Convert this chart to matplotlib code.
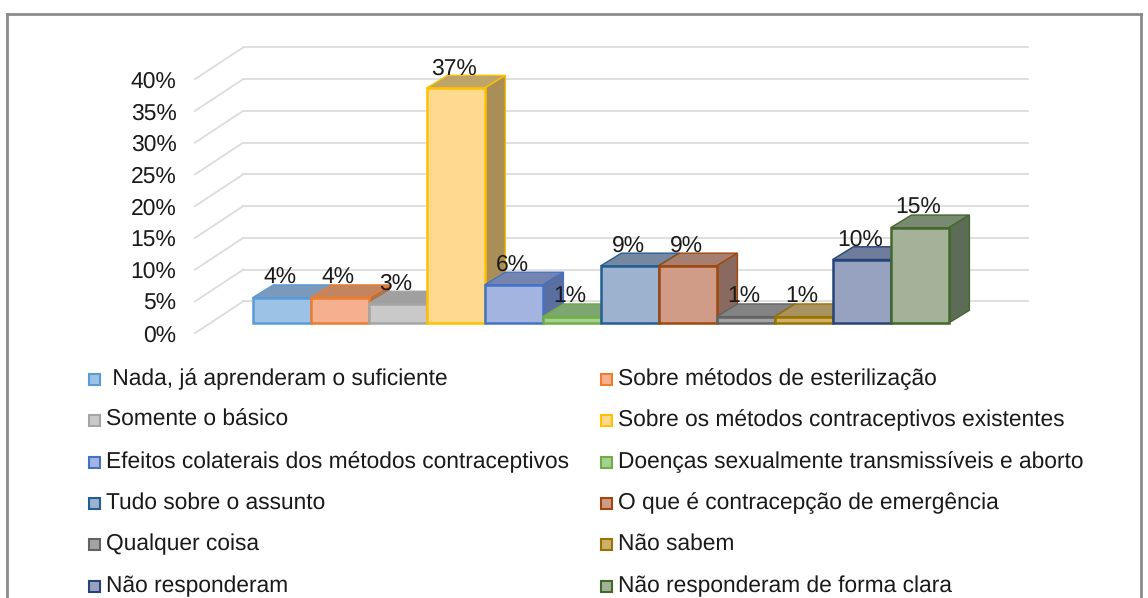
import matplotlib
matplotlib.use('Agg')
import matplotlib.pyplot as plt
from matplotlib.patches import Polygon, Rectangle

plt.rcParams['font.family'] = ['Liberation Sans', 'DejaVu Sans']
plt.rcParams['text.hinting'] = 'no_hinting'

categories = [' Nada, já aprenderam o suficiente', 'Sobre métodos de esterilização',
              'Somente o básico', 'Sobre os métodos contraceptivos existentes',
              'Efeitos colaterais dos métodos contraceptivos', 'Doenças sexualmente transmissíveis e aborto',
              'Tudo sobre o assunto', 'O que é contracepção de emergência',
              'Qualquer coisa', 'Não sabem',
              'Não responderam', 'Não responderam de forma clara']
values = [4, 4, 3, 37, 6, 1, 9, 9, 1, 1, 10, 15]
y_ticks = [0, 5, 10, 15, 20, 25, 30, 35, 40]

face_colors = ['#9cc3e6', '#f4b08f', '#c9c9c9', '#ffd98f', '#a3b4e0', '#a5d28e',
               '#9db2cf', '#d09c88', '#a3a3a3', '#cdb06a', '#97a2c0', '#a3b298']
edge_colors = ['#5b9bd5', '#ed7d31', '#a5a5a5', '#ffc000', '#4472c4', '#70ad47',
               '#255e91', '#9e480e', '#636363', '#997300', '#264478', '#43682b']
top_colors = ['#7b9abb', '#c2855f', '#a0a0a0', '#bda468', '#7585b0', '#7ea670',
              '#76889f', '#a67f70', '#838383', '#a8925f', '#6f7c9b', '#788a72']
side_colors = ['#6f8cab', '#b0734f', '#8f8f8f', '#a98e57', '#5a6f9f', '#6b9460',
               '#66798f', '#8a6a5e', '#707070', '#93804f', '#5f6b88', '#5c6c56']

W, H = 1148, 598
X0, Y0 = 252.7, 323.0   # pixel of bar 0 at 0%
BAR_W = 58.0
PCT = 6.35              # pixels per 1%

fig = plt.figure(figsize=(W / 100, H / 100), dpi=100, facecolor='white')
ax = fig.add_axes([0, 0, 1, 1])
ax.set_xlim(-X0 / BAR_W, (W - X0) / BAR_W)
ax.set_ylim((Y0 - H) / PCT, Y0 / PCT)
ax.axis('off')

# depth of the bars and of the back wall, in data units
dx, dy = 0.357, 2.0
wall_l, wall_r = -0.995, 13.37
wall_dx, wall_dy = 0.83, 5.0
front_y = -1.6

for v in y_ticks:
    yb = v + front_y + wall_dy
    ax.plot([wall_l, wall_l + wall_dx], [v + front_y, yb], color='#dcdcdc', lw=1.3, zorder=1)
    ax.plot([wall_l + wall_dx, wall_r], [yb, yb], color='#dcdcdc', lw=1.3, zorder=1)
    ax.text(wall_l - 0.32, v + front_y - 0.4, f'{v}%', ha='right', va='center', fontsize=16.5, color='#1a1a1a')

for i, v in enumerate(values):
    top = Polygon([(i, v), (i + dx, v + dy), (i + 1 + dx, v + dy), (i + 1, v)],
                  facecolor=top_colors[i], edgecolor=edge_colors[i], lw=1.0, zorder=2 + i)
    side = Polygon([(i + 1, 0), (i + 1 + dx, dy), (i + 1 + dx, v + dy), (i + 1, v)],
                   facecolor=side_colors[i], edgecolor=edge_colors[i], lw=1.0, zorder=2 + i)
    front = Rectangle((i, 0), 1, v, facecolor=face_colors[i], edgecolor=edge_colors[i], lw=1.8, zorder=2 + i)
    ax.add_patch(top)
    ax.add_patch(side)
    ax.add_patch(front)

for i, v in enumerate(values):
    ax.text(i + 0.47, v + 3.1, f'{v}%', ha='center', va='center', fontsize=16.5, color='#1a1a1a', zorder=30)

# overlay in pixel coordinates for the frame and the legend
ov = fig.add_axes([0, 0, 1, 1])
ov.set_xlim(0, W)
ov.set_ylim(H, 0)
ov.axis('off')
ov.patch.set_alpha(0)

ov.plot([7, 7], [H, 14], color='#8c8c8c', lw=2)
ov.plot([7, 1141], [14, 14], color='#8c8c8c', lw=2)
ov.plot([1141, 1141], [14, H], color='#8c8c8c', lw=2)

rows = [379, 420, 462, 503, 544, 586]
for i, name in enumerate(categories):
    row = rows[i // 2]
    sx, tx = (89, 106.5) if i % 2 == 0 else (601, 618)
    ov.add_patch(Rectangle((sx, row - 5.5), 11, 11, facecolor=face_colors[i], edgecolor=edge_colors[i], lw=1.5))
    ov.text(tx, row + 6, name, ha='left', va='baseline', fontsize=16.4, color='#1a1a1a')

fig.savefig('out.png', dpi=100)
